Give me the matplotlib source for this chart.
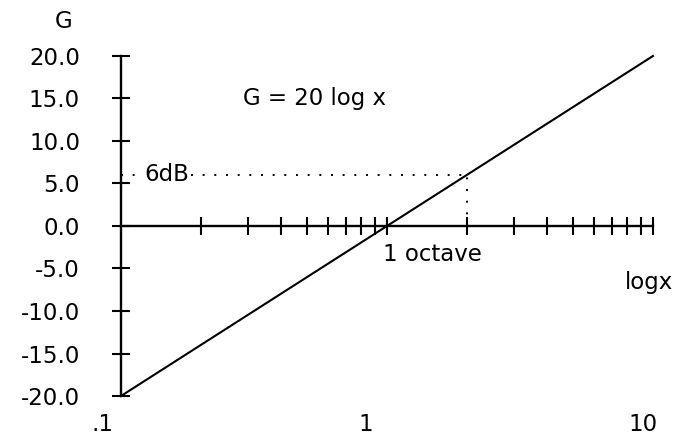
import matplotlib
matplotlib.use("Agg")
import matplotlib.pyplot as plt
from matplotlib.ticker import FixedLocator, NullFormatter, FormatStrFormatter
from matplotlib.transforms import offset_copy

plt.rcParams['font.family'] = ['DejaVu Sans']
plt.rcParams['axes.unicode_minus'] = False

# gain line G = 20 log x, end points
x_line = [0.1, 10]
g_line = [-20, 20]

# one octave above x=1
octave_x = 2
octave_g = 6.0

y_ticks = [-20, -15, -10, -5, 0, 5, 10, 15, 20]
x_minor = [0.2, 0.3, 0.4, 0.5, 0.6, 0.7, 0.8, 0.9, 2, 3, 4, 5, 6, 7, 8, 9]
x_major = [1, 10]
x_labels = ['.1', '1', '10']
x_label_pos = [0.1, 1, 10]

FS = 16.5

fig = plt.figure(figsize=(6.77, 4.37), dpi=100)
ax = fig.add_axes([0.1787, 0.0938, 0.7858, 0.7781])
ax.set_xscale('log')
ax.set_xlim(0.1, 10)
ax.set_ylim(-20, 20)

for side in ['top', 'right']:
    ax.spines[side].set_visible(False)
ax.spines['bottom'].set_position(('data', 0))
ax.spines['left'].set_linewidth(1.7)
ax.spines['bottom'].set_linewidth(1.7)

ax.yaxis.set_major_locator(FixedLocator(y_ticks))
ax.yaxis.set_major_formatter(FormatStrFormatter('%.1f'))
ax.tick_params(axis='y', direction='inout', length=13, width=1.5,
               pad=23, labelsize=FS)

ax.xaxis.set_major_locator(FixedLocator(x_major))
ax.xaxis.set_minor_locator(FixedLocator(x_minor))
ax.xaxis.set_major_formatter(NullFormatter())
ax.xaxis.set_minor_formatter(NullFormatter())
ax.tick_params(axis='x', which='both', direction='inout', length=13, width=1.5)

# the line itself
ax.plot(x_line, g_line, color='black', lw=1.5, clip_on=False)

# 6 dB marker lines
ax.plot([x_line[0], octave_x], [octave_g, octave_g], color='black',
        lw=1.4, linestyle=(0, (1, 5)))
ax.plot([octave_x, octave_x], [0, octave_g], color='black',
        lw=1.4, linestyle=(0, (1, 5)))

ax.text(0.122, octave_g, '6dB', fontsize=FS, ha='left', va='center',
        bbox=dict(facecolor='white', edgecolor='none', pad=1.0))
ax.text(0.2875, 15.0, 'G = 20 log x', fontsize=FS, ha='left', va='center')
ax.text(0.966, -3.4, '1 octave', fontsize=FS, ha='left', va='center')
ax.text(7.85, -6.7, 'logx', fontsize=FS, ha='left', va='center')
fig.text(64 / 677, 1 - 21 / 437, 'G', fontsize=FS, ha='center', va='center')

# decade labels under the plot, nudged left
shifts = [-13, -15, -7]
for xv, lbl, dx in zip(x_label_pos, x_labels, shifts):
    tr = offset_copy(ax.get_xaxis_transform(), fig=fig, x=dx, y=0, units='points')
    ax.text(xv, -0.085, lbl, transform=tr, fontsize=FS, ha='center', va='center')

fig.savefig('out.png', dpi=100)
